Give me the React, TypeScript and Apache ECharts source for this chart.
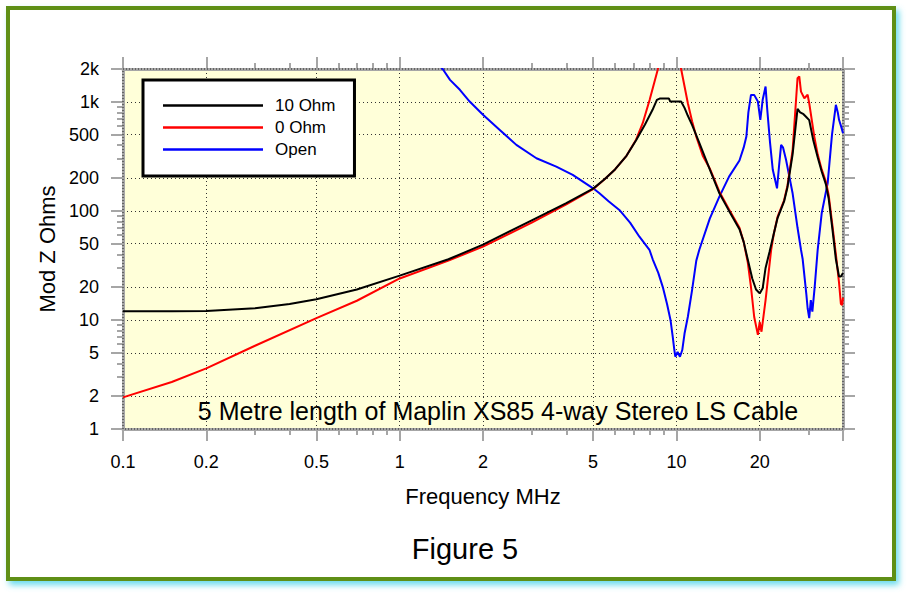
import React, { useEffect, useRef } from 'react';
import * as echarts from 'echarts';

const FONT = "'Liberation Sans', Arial, Helvetica, sans-serif";

// Axis ticks / labels
const xMajorTicks = [0.1, 0.2, 0.5, 1, 2, 5, 10, 20, 40];
const xMinorTicks = [0.3, 0.4, 0.6, 0.7, 0.8, 0.9, 3, 4, 6, 7, 8, 9, 30];
const xLabelValues = [0.1, 0.2, 0.5, 1, 2, 5, 10, 20];
const xLabelTexts = ['0.1', '0.2', '0.5', '1', '2', '5', '10', '20'];
const yMajorTicks = [1, 2, 5, 10, 20, 50, 100, 200, 500, 1000, 2000];
const yMinorTicks = [3, 4, 6, 7, 8, 9, 30, 40, 60, 70, 80, 90, 300, 400, 600, 700, 800, 900];
const yLabelTexts = ['1', '2', '5', '10', '20', '50', '100', '200', '500', '1k', '2k'];

// 10 Ohm termination
const ohm10Freq = [0.1, 0.15, 0.2, 0.3, 0.4, 0.5, 0.7, 1, 1.5, 2, 3, 4, 5, 5.5, 6, 6.6, 7.15, 7.7, 8.2, 8.5, 8.7, 9.4, 9.5, 10.4, 10.7, 11.0, 11.4, 12.1, 13.2, 14.3, 15.5, 16.9, 17.5, 18.1, 18.8, 19.4, 20, 20.5, 21, 21.7, 22.5, 23.2, 24.5, 25.2, 26.3, 27.4, 28.0, 28.8, 29.4, 30.2, 31.2, 32.4, 33.5, 34.7, 35.5, 36.6, 37.7, 38.7, 39.3, 40];
const ohm10Z = [12, 12, 12.1, 12.8, 14, 15.5, 19, 25.5, 36, 49, 82, 118, 160, 195, 240, 320, 445, 620, 845, 1040, 1070, 1070, 1005, 1005, 880, 745, 611, 420, 240, 145, 100, 68, 52, 36, 24, 19, 17.5, 19.5, 30, 42, 62, 86, 122, 165, 330, 860, 800, 770, 730, 680, 450, 310, 230, 175, 130, 69, 36, 25, 25, 27];

// 0 Ohm termination
const ohm0Freq = [0.1, 0.15, 0.2, 0.3, 0.5, 0.7, 1, 1.5, 2, 3, 4, 5, 5.5, 6, 6.6, 7.15, 7.56, 8.0, 8.56, 9.0, 10.0, 10.4, 11.0, 11.4, 11.8, 12.45, 13.2, 14.3, 15.5, 16.9, 17.5, 18.1, 18.6, 19.1, 19.7, 20.0, 20.3, 21.0, 22.0, 22.5, 23.2, 24.5, 25.2, 26.3, 27.4, 27.8, 28.2, 29.0, 29.8, 30.2, 31.5, 32.4, 33.5, 34.7, 35.5, 36.6, 37.7, 38.7, 39.3, 39.7, 40];
const ohm0Z = [1.95, 2.7, 3.6, 5.8, 10.4, 15, 24, 35, 47, 78, 115, 158, 195, 240, 320, 450, 640, 1040, 1970, 4000, 4000, 2000, 970, 660, 480, 320, 245, 150, 103, 70, 52, 34, 20, 10.7, 7.3, 9.6, 7.8, 15.2, 44, 62, 88, 125, 170, 360, 1650, 1710, 1240, 1080, 1160, 970, 480, 330, 240, 185, 140, 75, 40, 22, 14, 13.7, 16];

// Open termination
const openFreq = [1.3, 1.43, 1.52, 1.65, 1.79, 2.0, 2.3, 2.64, 3.12, 3.68, 4.22, 5.0, 5.27, 5.7, 6.22, 6.8, 7.35, 7.99, 8.21, 8.6, 8.93, 9.25, 9.52, 9.7, 9.83, 9.91, 10.1, 10.3, 10.5, 10.7, 11.0, 11.4, 11.8, 12.1, 13.2, 14.3, 15.5, 16.9, 17.5, 17.9, 18.2, 18.6, 19.1, 19.7, 20.1, 20.5, 21.0, 21.3, 21.8, 22.3, 23.1, 23.5, 23.9, 24.3, 24.9, 26.3, 27.4, 28.2, 28.6, 29.5, 29.8, 30.2, 30.6, 31.0, 31.6, 32.4, 33.5, 35.2, 36.5, 37.7, 38.3, 38.7, 39.5, 40];
const openZ = [2600, 2000, 1590, 1290, 1006, 760, 553, 403, 304, 255, 214, 161, 145, 122, 102, 78, 58, 44, 36, 27, 20, 14, 10, 7, 5.3, 4.6, 5.1, 4.6, 5.3, 7.5, 10.7, 19, 35, 44, 85, 135, 206, 290, 380, 481, 800, 1158, 1158, 1006, 684, 1043, 1380, 845, 420, 238, 161, 260, 403, 380, 294, 145, 70, 44, 36, 17, 12.8, 10.4, 15.2, 11.9, 20, 44, 95, 179, 500, 938, 800, 684, 580, 516];

const lg = Math.log10;
const toPts = (f: number[], z: number[]) => f.map((v, i) => [lg(v), lg(z[i])]);

const xFmt = (v: number) => {
  const i = xLabelValues.findIndex((t) => Math.abs(lg(t) - v) < 1e-6);
  return i >= 0 ? xLabelTexts[i] : '';
};
const yFmt = (v: number) => {
  const i = yMajorTicks.findIndex((t) => Math.abs(lg(t) - v) < 1e-6);
  return i >= 0 ? yLabelTexts[i] : '';
};

const TICK_COLOR = '#a6a6a6';

function makeX(position: 'top' | 'bottom', major: boolean, main: boolean) {
  return {
    type: 'value',
    position,
    min: lg(0.1),
    max: lg(40),
    axisLine: { show: major, onZero: false, lineStyle: { color: TICK_COLOR, width: 3 } },
    axisTick: {
      show: true,
      inside: false,
      customValues: (major ? xMajorTicks : xMinorTicks).map(lg),
      length: major ? 12 : 6,
      lineStyle: { color: TICK_COLOR, width: 2 },
    },
    axisLabel: main
      ? { show: true, customValues: xLabelValues.map(lg), formatter: xFmt, margin: 24, fontSize: 18, fontFamily: FONT, color: '#000' }
      : { show: false },
    splitLine: main
      ? { show: true, showMinLine: false, showMaxLine: false, lineStyle: { color: '#333', type: [1, 3], width: 1 } }
      : { show: false },
    name: main ? 'Frequency MHz' : '',
    nameLocation: 'middle',
    nameGap: 56,
    nameTextStyle: { fontSize: 22, fontFamily: FONT, color: '#000' },
  };
}

function makeY(position: 'left' | 'right', major: boolean, main: boolean) {
  return {
    type: 'value',
    position,
    min: 0,
    max: lg(2000),
    axisLine: { show: major, onZero: false, lineStyle: { color: TICK_COLOR, width: 3 } },
    axisTick: {
      show: true,
      inside: false,
      customValues: (major ? yMajorTicks : yMinorTicks).map(lg),
      length: major ? 12 : 6,
      lineStyle: { color: TICK_COLOR, width: 2 },
    },
    axisLabel: main
      ? { show: true, customValues: yMajorTicks.map(lg), formatter: yFmt, margin: 24, fontSize: 18, fontFamily: FONT, color: '#000' }
      : { show: false },
    splitLine: main
      ? { show: true, showMinLine: false, showMaxLine: false, lineStyle: { color: '#333', type: [1, 3], width: 1 } }
      : { show: false },
    name: main ? 'Mod Z Ohms' : '',
    nameLocation: 'middle',
    nameGap: 64,
    nameTextStyle: { fontSize: 22, fontFamily: FONT, color: '#000' },
  };
}

export default function App() {
  const ref = useRef<HTMLDivElement>(null);
  useEffect(() => {
    if (!ref.current) return;
    const chart = echarts.init(ref.current, null, { renderer: 'svg' });
    const option: any = {
      animation: false,
      grid: {
        left: 123,
        top: 69,
        width: 720,
        height: 360,
        show: true,
        backgroundColor: '#ffffd9',
        borderWidth: 0,
        containLabel: false,
        outerBoundsMode: 'none',
      },
      xAxis: [makeX('bottom', true, true), makeX('top', true, false), makeX('bottom', false, false), makeX('top', false, false)],
      yAxis: [makeY('left', true, true), makeY('right', true, false), makeY('left', false, false), makeY('right', false, false)],
      legend: {
        orient: 'vertical',
        left: 143,
        top: 80,
        data: ['10 Ohm', '0 Ohm', 'Open'],
        icon: 'rect',
        itemWidth: 100,
        itemHeight: 2.5,
        itemGap: 5,
        padding: [17, 19, 18, 20],
        backgroundColor: '#fff',
        borderColor: '#000',
        borderWidth: 3,
        borderRadius: 0,
        textStyle: { fontSize: 17, fontFamily: FONT, color: '#000', padding: [0, 0, 0, 7] },
      },
      series: [
        {
          name: 'Open', type: 'line', symbol: 'none', showSymbol: false, clip: true,
          lineStyle: { color: '#0000ff', width: 2 }, itemStyle: { color: '#0000ff' },
          data: toPts(openFreq, openZ),
        },
        {
          name: '0 Ohm', type: 'line', symbol: 'none', showSymbol: false, clip: true,
          lineStyle: { color: '#ff0000', width: 2 }, itemStyle: { color: '#ff0000' },
          data: toPts(ohm0Freq, ohm0Z),
        },
        {
          name: '10 Ohm', type: 'line', symbol: 'none', showSymbol: false, clip: true,
          lineStyle: { color: '#000000', width: 2 }, itemStyle: { color: '#000000' },
          data: toPts(ohm10Freq, ohm10Z),
        },
      ],
      graphic: [
        {
          type: 'rect', z: -1, silent: true,
          shape: { x: 8, y: 8, width: 886, height: 571 },
          style: {
            fill: '#ffffff', stroke: '#5f8f12', lineWidth: 4,
            shadowBlur: 6, shadowOffsetX: 3, shadowOffsetY: 4, shadowColor: 'rgba(90,215,235,0.9)',
          },
        },
        {
          type: 'rect', z: 3, silent: true,
          shape: { x: 123, y: 69, width: 720, height: 360 },
          style: { fill: 'none', stroke: '#222', lineWidth: 1, lineDash: [1, 2] },
        },
        {
          type: 'text', z: 4, x: 498, y: 411,
          style: {
            text: '5 Metre length of Maplin XS85 4-way Stereo LS Cable',
            fontSize: 25, fontFamily: FONT, fill: '#000', align: 'center', verticalAlign: 'middle',
          },
        },
        {
          type: 'text', z: 4, x: 465, y: 549,
          style: { text: 'Figure 5', fontSize: 29, fontFamily: FONT, fill: '#000', align: 'center', verticalAlign: 'middle' },
        },
      ],
    };
    chart.setOption(option);
    return () => chart.dispose();
  }, []);
  return (
    <div
      ref={ref}
      style={{ position: 'absolute', left: 0, top: 0, width: 907, height: 595, background: '#fff' }}
    />
  );
}
